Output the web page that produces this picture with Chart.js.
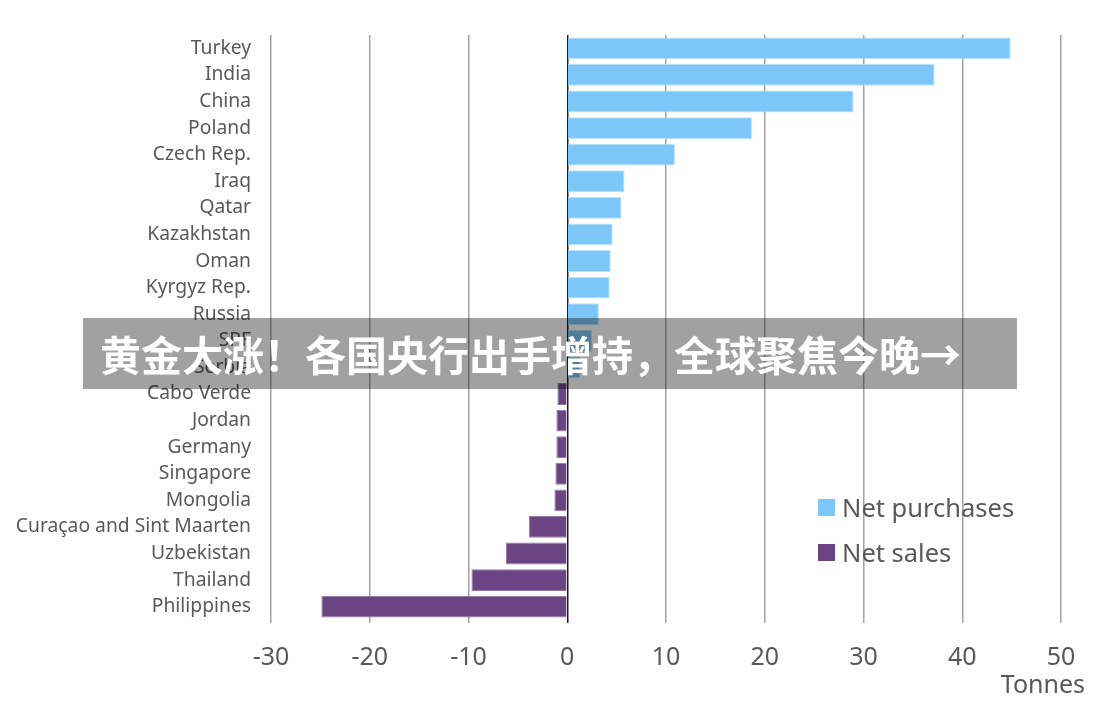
<!DOCTYPE html>
<html>
<head>
<meta charset="utf-8">
<script src="https://cdn.jsdelivr.net/npm/chart.js@4/dist/chart.umd.min.js"></script>
<style>
  html, body { margin: 0; padding: 0; background: #ffffff; }
  #wrap { position: relative; width: 1102px; height: 707px; }
  #c { position: absolute; left: 0; top: 0; }
  #legend { position: absolute; left: 818px; top: 489px; font-family: "Noto Sans", sans-serif; font-size: 25.5px; color: #595959; }
  .item { display: flex; align-items: center; height: 36px; margin-bottom: 9px; }
  .box { width: 17px; height: 17px; margin-right: 7px; }
  #banner { position: absolute; left: 83px; top: 318px; width: 934px; height: 71px;
    background: rgba(0,0,0,0.37); color: #ffffff; font-family: "Noto Sans CJK SC", sans-serif;
    font-weight: 700; font-size: 41px; line-height: 71px; padding-left: 17px; box-sizing: border-box; white-space: nowrap; }
</style>
</head>
<body>
<div id="wrap">
  <canvas id="c" width="1102" height="707"></canvas>
  <div id="legend"></div>
  <div id="banner">黄金大涨！各国央行出手增持，全球聚焦今晚→</div>
</div>
<script>
const categories = ["Turkey","India","China","Poland","Czech Rep.","Iraq","Qatar","Kazakhstan","Oman","Kyrgyz Rep.","Russia","SPF","Serbia","Cabo Verde","Jordan","Germany","Singapore","Mongolia","Curaçao and Sint Maarten","Uzbekistan","Thailand","Philippines"];
const netPurchases = [44.9, 37.2, 29.0, 18.7, 10.9, 5.8, 5.5, 4.6, 4.4, 4.3, 3.2, 2.5, 1.3, null, null, null, null, null, null, null, null, null];
const netSales = [null, null, null, null, null, null, null, null, null, null, null, null, null, -1.0, -1.1, -1.1, -1.2, -1.3, -3.9, -6.2, -9.7, -24.9];
const xTicks = [-30, -20, -10, 0, 10, 20, 30, 40, 50];
const seriesNames = ["Net purchases", "Net sales"];
const seriesColors = ["#7cc6f8", "#6a4483"];
const seriesBorders = ["#b9e1fb", "#9478a8"];
const axisTitle = "Tonnes";

const textColor = "#595959";
const fontFam = "'Noto Sans', sans-serif";

const titlePlugin = {
  id: 'tonnes',
  afterDraw(chart) {
    const ctx = chart.ctx;
    const area = chart.chartArea;
    ctx.save();
    ctx.font = "25px " + fontFam;
    ctx.fillStyle = textColor;
    ctx.textAlign = 'right';
    ctx.textBaseline = 'middle';
    ctx.fillText(axisTitle, area.right + 24, area.bottom + 66);
    ctx.restore();
  }
};

const chart = new Chart(document.getElementById('c'), {
  type: 'bar',
  data: {
    labels: categories,
    datasets: [
      { label: seriesNames[0], data: netPurchases, backgroundColor: seriesColors[0], borderColor: seriesBorders[0], borderWidth: 1, grouped: false, barPercentage: 0.82, categoryPercentage: 1.0 },
      { label: seriesNames[1], data: netSales, backgroundColor: seriesColors[1], borderColor: seriesBorders[1], borderWidth: 1, grouped: false, barPercentage: 0.82, categoryPercentage: 1.0 }
    ]
  },
  options: {
    indexAxis: 'y',
    responsive: false,
    animation: false,
    layout: { padding: { left: 0, right: 41, top: 35, bottom: 0 } },
    plugins: { legend: { display: false }, tooltip: { enabled: false } },
    scales: {
      x: {
        type: 'linear',
        min: -30, max: 50,
        afterBuildTicks(scale) { scale.ticks = xTicks.map(v => ({ value: v })); },
        afterFit(scale) { scale.height = 87; },
        border: { display: false },
        grid: {
          color: ctx => (ctx.tick && ctx.tick.value === 0) ? '#1e1e1e' : '#a3a3a3',
          lineWidth: 1.5,
          drawTicks: true, tickLength: 3
        },
        ticks: { color: textColor, font: { family: fontFam, size: 25 }, padding: 20, maxRotation: 0 }
      },
      y: {
        afterFit(scale) { scale.width = 271; },
        grid: { display: false, drawTicks: false },
        border: { display: false },
        ticks: { color: textColor, font: { family: fontFam, size: 19.3 }, padding: 20, autoSkip: false }
      }
    }
  },
  plugins: [titlePlugin]
});

const legend = document.getElementById('legend');
seriesNames.forEach((name, i) => {
  const item = document.createElement('div');
  item.className = 'item';
  const box = document.createElement('div');
  box.className = 'box';
  box.style.background = seriesColors[i];
  const label = document.createElement('span');
  label.textContent = name;
  item.appendChild(box);
  item.appendChild(label);
  legend.appendChild(item);
});
</script>
</body>
</html>
